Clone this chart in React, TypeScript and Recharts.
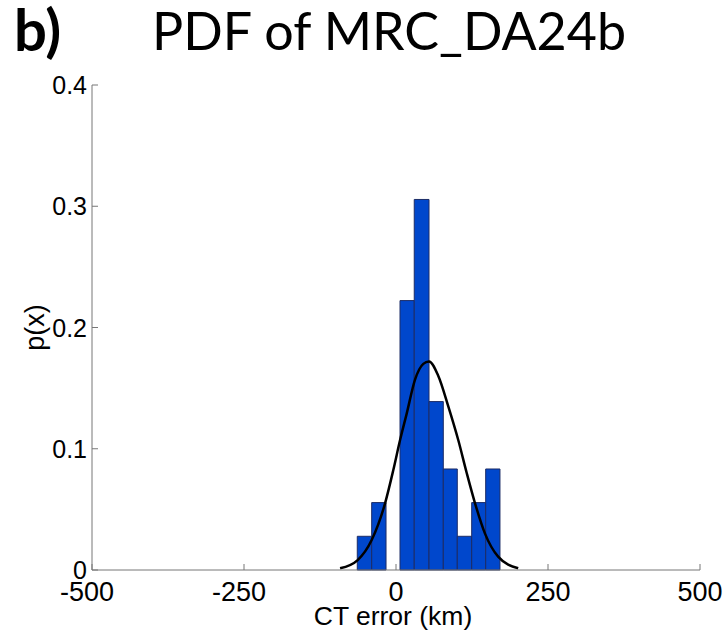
import { ComposedChart, Line, XAxis, YAxis, ReferenceArea } from "recharts";

// histogram bins (km) and relative frequency
const binLo = [-63.7, -40, -16.4, 6.6, 30, 54.3, 77.8, 100.8, 124.5, 147.5];
const binHi = [-40, -16.4, 6.6, 30, 54.3, 77.8, 100.8, 124.5, 147.5, 171];
const binP = [0.0278, 0.0556, 0, 0.2222, 0.3056, 0.1389, 0.0833, 0.0278, 0.0556, 0.0833];

// fitted normal curve
const fitX = [-92, -63, -40, -18, -4.4, 6.6, 17.6, 31.3, 44.9, 54.3, 69.6, 86, 102.5, 116.3, 130, 146.4, 168, 201];
const fitP = [0.0014, 0.0082, 0.0247, 0.055, 0.0825, 0.107, 0.129, 0.157, 0.17, 0.172, 0.16, 0.135, 0.107, 0.08, 0.055, 0.03, 0.011, 0.0014];

const xTicks = [-500, -250, 0, 250, 500];
const yTicks = [0, 0.1, 0.2, 0.3, 0.4];

const fitData = fitX.map((x, i) => ({ x, p: fitP[i] }));

const FRAME = "#777";
const AXIS_FONT = "'Liberation Sans', Arial, sans-serif";
const TICK = 6;

function BottomTick({ x, y, payload }: any) {
  return (
    <g>
      <line x1={x} x2={x} y1={y} y2={y - TICK} stroke={FRAME} />
      <text
        x={x}
        y={y + 31}
        dx={payload.value < 0 ? -5 : 0}
        textAnchor="middle"
        fontSize={27}
        fontFamily={AXIS_FONT}
        fill="#000"
      >
        {payload.value}
      </text>
    </g>
  );
}

function TopTick({ x, y }: any) {
  return <line x1={x} x2={x} y1={y} y2={y + TICK} stroke={FRAME} />;
}

function LeftTick({ x, y, payload }: any) {
  return (
    <g>
      <line x1={x} x2={x + TICK} y1={y} y2={y} stroke={FRAME} />
      <text x={x - 5} y={y} dy="0.36em" textAnchor="end" fontSize={25} fontFamily={AXIS_FONT} fill="#000">
        {payload.value}
      </text>
    </g>
  );
}

function RightTick({ x, y }: any) {
  return <line x1={x} x2={x - TICK} y1={y} y2={y} stroke={FRAME} />;
}

export default function App() {
  return (
    <div style={{ position: "absolute", left: 0, top: 0, width: 726, height: 631, background: "#fff" }}>
      <ComposedChart width={726} height={631} margin={{ top: 85, right: 26, bottom: 0, left: 0 }}>
        <XAxis
          xAxisId="b"
          type="number"
          dataKey="x"
          domain={[-500, 500]}
          ticks={xTicks}
          allowDataOverflow
          height={61}
          tickSize={0}
          tickMargin={0}
          tickLine={false}
          axisLine={{ stroke: FRAME }}
          tick={<BottomTick />}
          interval={0}
        />
        <XAxis
          xAxisId="t"
          orientation="top"
          type="number"
          dataKey="x"
          domain={[-500, 500]}
          ticks={xTicks}
          allowDataOverflow
          height={0}
          tickSize={0}
          tickMargin={0}
          tickLine={false}
          axisLine={{ stroke: FRAME }}
          tick={<TopTick />}
          interval={0}
        />
        <YAxis
          yAxisId="l"
          type="number"
          domain={[0, 0.4]}
          ticks={yTicks}
          allowDataOverflow
          width={92}
          tickSize={0}
          tickMargin={0}
          tickLine={false}
          axisLine={{ stroke: FRAME }}
          tick={<LeftTick />}
          interval={0}
          label={{
            value: "p(x)",
            angle: -90,
            position: "insideLeft",
            offset: 0,
            dx: 34,
            style: { fontSize: 27, fontFamily: AXIS_FONT, fill: "#000", textAnchor: "middle" },
          }}
        />
        <YAxis
          yAxisId="r"
          orientation="right"
          type="number"
          domain={[0, 0.4]}
          ticks={yTicks}
          allowDataOverflow
          width={0}
          tickSize={0}
          tickMargin={0}
          tickLine={false}
          axisLine={{ stroke: FRAME }}
          tick={<RightTick />}
          interval={0}
        />
        {binP.map((p, i) =>
          p > 0 ? (
            <ReferenceArea
              key={i}
              xAxisId="b"
              yAxisId="l"
              x1={binLo[i]}
              x2={binHi[i]}
              y1={0}
              y2={p}
              fill="#0047cc"
              fillOpacity={1}
              stroke="#1c2c66"
              strokeWidth={1}
            />
          ) : null
        )}
        <Line
          xAxisId="b"
          yAxisId="l"
          data={fitData}
          dataKey="p"
          type="monotone"
          stroke="#000"
          strokeWidth={2.5}
          dot={false}
          isAnimationActive={false}
        />
        <text x={14} y={51} fontSize={58} fontWeight={700} fontFamily="Lato, sans-serif" fill="#000">
          b)
        </text>
        <text x={152} y={50} fontSize={52} fontFamily="Lato, sans-serif" fill="#000">
          PDF of MRC_DA24b
        </text>
        <text x={393} y={625} textAnchor="middle" fontSize={26.5} fontFamily={AXIS_FONT} fill="#000">
          CT error (km)
        </text>
      </ComposedChart>
    </div>
  );
}
